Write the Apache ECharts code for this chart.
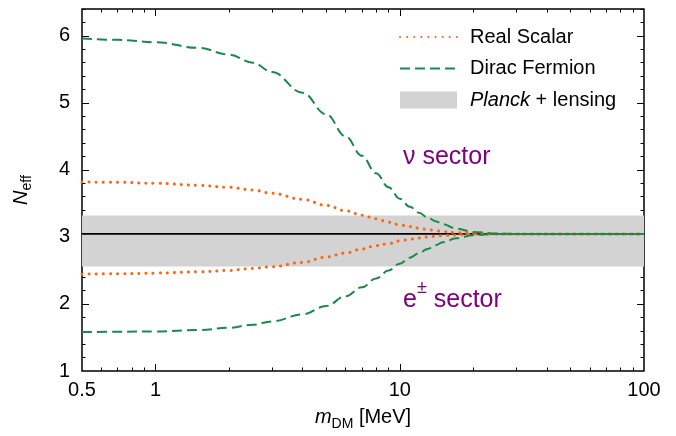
<!DOCTYPE html>
<html>
<head>
<meta charset="utf-8">
<script src="https://cdn.jsdelivr.net/npm/echarts@6/dist/echarts.min.js"></script>
<style>
  html, body { margin: 0; padding: 0; background: #fff; }
  #chart { width: 676px; height: 436px; }
</style>
</head>
<body>
<div id="chart"></div>
<script>
// dark matter mass [MeV]
var masses = [0.5, 0.7, 1, 1.5, 2, 2.5, 3, 4, 5, 6, 7, 8, 9, 10, 11, 12, 13, 14, 15, 17, 20, 25, 30, 50, 100];
// N_eff, neutrino sector (upper branch)
var scalarNu  = [3.82, 3.815, 3.80, 3.77, 3.74, 3.70, 3.65, 3.56, 3.47, 3.39, 3.325, 3.27, 3.22, 3.18, 3.155, 3.13, 3.11, 3.095, 3.08, 3.065, 3.05, 3.045, 3.045, 3.045, 3.045];
var fermionNu = [5.96, 5.94, 5.905, 5.82, 5.72, 5.60, 5.46, 5.15, 4.83, 4.50, 4.21, 3.95, 3.74, 3.57, 3.45, 3.36, 3.29, 3.235, 3.19, 3.125, 3.075, 3.05, 3.045, 3.045, 3.045];
// N_eff, e+- sector (lower branch)
var scalarE   = [2.445, 2.45, 2.46, 2.48, 2.50, 2.53, 2.555, 2.62, 2.70, 2.76, 2.82, 2.87, 2.90, 2.94, 2.965, 2.985, 3.00, 3.01, 3.02, 3.03, 3.04, 3.045, 3.045, 3.045, 3.045];
var fermionE  = [1.58, 1.585, 1.59, 1.61, 1.645, 1.69, 1.74, 1.845, 1.97, 2.115, 2.25, 2.38, 2.50, 2.60, 2.69, 2.76, 2.82, 2.875, 2.92, 2.98, 3.025, 3.045, 3.045, 3.045, 3.045];
// standard model value and Planck + lensing band
var nEffSM = 3.045;
var bandLo = 2.56;
var bandHi = 3.32;

var xTickLabels = [0.5, 1, 10, 100];
var xMajorTicks = [1, 10];
var xMinorTicks = [0.6, 0.7, 0.8, 0.9, 2, 3, 4, 5, 6, 7, 8, 9, 20, 30, 40, 50, 60, 70, 80, 90];
var yTickLabels = [1, 2, 3, 4, 5, 6];
var yMajorTicks = [2, 3, 4, 5, 6];
var yMinorTicks = [];
for (var k = 1; k < 32; k++) {
    var v = Math.round((1 + k * 0.2) * 10) / 10;
    if (v % 1 !== 0) yMinorTicks.push(v);
}

var FONT = '"Liberation Sans", Arial, Helvetica, sans-serif';
var ORANGE = '#ff6410';
var GREEN = '#1a8a48';
var PURPLE = '#800080';

function pairs(ys) {
    return masses.map(function (x, i) { return [x, ys[i]]; });
}

function xAx(pos, ticks, len, labels) {
    return {
        type: 'log', logBase: 10, min: 0.5, max: 100, position: pos,
        axisLine: { show: false },
        splitLine: { show: false },
        axisTick: { show: true, inside: true, length: len, customValues: ticks, lineStyle: { color: '#000', width: 1 } },
        axisLabel: labels ? {
            show: true, customValues: labels, margin: 9,
            color: '#000', fontSize: 20, fontFamily: FONT,
            formatter: function (v) { return String(+v); }
        } : { show: false }
    };
}
function yAx(pos, ticks, len, labels) {
    return {
        type: 'value', min: 1, max: 6.4, position: pos,
        axisLine: { show: false },
        splitLine: { show: false },
        axisTick: { show: true, inside: true, length: len, customValues: ticks, lineStyle: { color: '#000', width: 1 } },
        axisLabel: labels ? {
            show: true, customValues: labels, margin: 12,
            color: '#000', fontSize: 20, fontFamily: FONT
        } : { show: false }
    };
}

var xAxes = [
    xAx('bottom', xMajorTicks, 7, xTickLabels),
    xAx('bottom', xMinorTicks, 3.5, null),
    xAx('top', xMajorTicks, 7, null),
    xAx('top', xMinorTicks, 3.5, null)
];
xAxes[0].name = '{i|m}{s|DM} [MeV]';
xAxes[0].nameLocation = 'middle';
xAxes[0].nameGap = 29;
xAxes[0].nameTextStyle = {
    color: '#000', fontSize: 20, fontFamily: FONT, lineHeight: 26,
    rich: {
        i: { fontStyle: 'italic', fontSize: 20, fontFamily: FONT, lineHeight: 26 },
        s: { fontSize: 14, fontFamily: FONT, lineHeight: 14, verticalAlign: 'bottom' }
    }
};

var yAxes = [
    yAx('left', yMajorTicks, 7, yTickLabels),
    yAx('left', yMinorTicks, 3.5, null),
    yAx('right', yMajorTicks, 7, null),
    yAx('right', yMinorTicks, 3.5, null)
];
yAxes[0].name = '{i|N}{s|eff}';
yAxes[0].nameLocation = 'middle';
yAxes[0].nameRotate = 90;
yAxes[0].nameGap = 48;
yAxes[0].nameTextStyle = {
    color: '#000', fontSize: 20, fontFamily: FONT, lineHeight: 26,
    rich: {
        i: { fontStyle: 'italic', fontSize: 20, fontFamily: FONT, lineHeight: 26 },
        s: { fontSize: 14, fontFamily: FONT, lineHeight: 14, verticalAlign: 'bottom' }
    }
};

var dotted = { color: ORANGE, width: 3, type: [0.1, 7], cap: 'round' };
var dashed = { color: GREEN, width: 2, type: [10, 5] };

function curve(name, ys, style) {
    return {
        name: name, type: 'line', data: pairs(ys),
        xAxisIndex: 0, yAxisIndex: 0,
        symbol: 'none', smooth: 0.4, smoothMonotone: 'x',
        color: style.color, lineStyle: style, z: 4, silent: true
    };
}

var myChart = echarts.init(document.getElementById('chart'), null, { renderer: 'canvas' });
myChart.setOption({
    animation: false,
    backgroundColor: '#fff',
    grid: { left: 79, right: 32, top: 9, bottom: 65, show: true, borderColor: '#000', borderWidth: 1.5, backgroundColor: 'transparent' },
    xAxis: xAxes,
    yAxis: yAxes,
    legend: {
        orient: 'vertical', left: 399, top: 27, padding: 0,
        itemWidth: 57, itemHeight: 17, itemGap: 11.5,
        selectedMode: false,
        data: [
            { name: 'Real Scalar', itemStyle: { opacity: 0 } },
            { name: 'Dirac Fermion', itemStyle: { opacity: 0 } },
            { name: 'Planck + lensing', icon: 'rect' }
        ],
        textStyle: {
            color: '#000', fontSize: 20, fontFamily: FONT, lineHeight: 20, padding: [0, 0, 0, 8],
            rich: { it: { fontStyle: 'italic', fontSize: 20, fontFamily: FONT, lineHeight: 20 } }
        },
        formatter: function (name) {
            return name === 'Planck + lensing' ? '{it|Planck} + lensing' : name;
        }
    },
    graphic: [
        {
            type: 'text', z: 10,
            style: { text: 'ν sector', x: 403, y: 157, fill: PURPLE, fontSize: 25, fontFamily: FONT, verticalAlign: 'middle' }
        },
        {
            type: 'text', z: 10,
            style: {
                text: '{e|e}{p|±}{e| sector}', x: 403, y: 296, verticalAlign: 'middle', fill: PURPLE,
                rich: {
                    e: { fontSize: 25, fontFamily: FONT, lineHeight: 34, fill: PURPLE, verticalAlign: 'bottom' },
                    p: { fontSize: 18, fontFamily: FONT, lineHeight: 18, fill: PURPLE, verticalAlign: 'top' }
                }
            }
        }
    ],
    series: [
        {
            name: 'Planck + lensing', type: 'custom', xAxisIndex: 0, yAxisIndex: 0,
            data: [[0.5, bandLo, 100, bandHi]],
            encode: { x: [0, 2], y: [1, 3] },
            itemStyle: { color: '#d3d3d3' }, z: 1, silent: true,
            renderItem: function (params, api) {
                var p0 = api.coord([api.value(0), api.value(3)]);
                var p1 = api.coord([api.value(2), api.value(1)]);
                return {
                    type: 'rect',
                    shape: { x: p0[0], y: p0[1], width: p1[0] - p0[0], height: p1[1] - p0[1] },
                    style: { fill: '#d3d3d3' }
                };
            }
        },
        {
            name: 'SM', type: 'line', xAxisIndex: 0, yAxisIndex: 0,
            data: [[0.5, nEffSM], [100, nEffSM]],
            symbol: 'none', color: '#000', lineStyle: { color: '#000', width: 1.8 }, z: 2, silent: true
        },
        curve('Real Scalar', scalarNu, dotted),
        curve('Real Scalar', scalarE, dotted),
        curve('Dirac Fermion', fermionNu, dashed),
        curve('Dirac Fermion', fermionE, dashed)
    ]
});
</script>
</body>
</html>
